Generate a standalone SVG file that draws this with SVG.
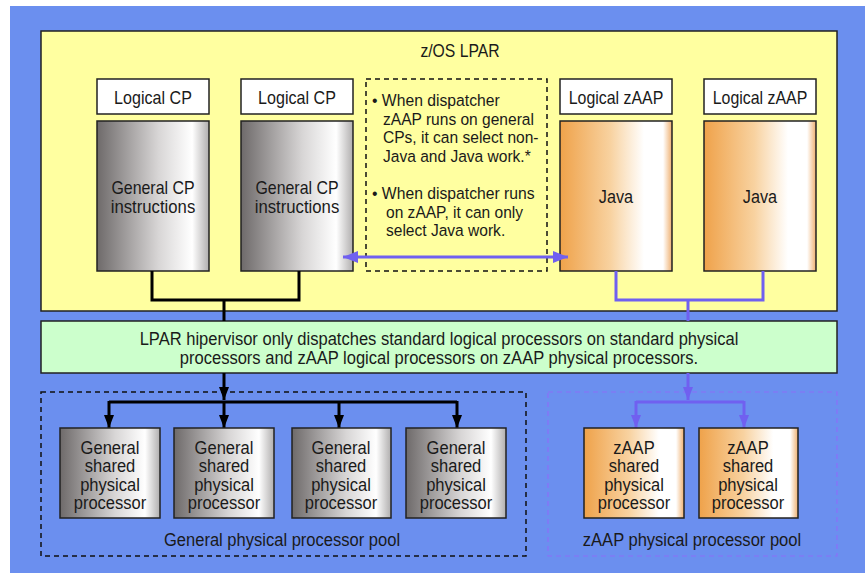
<svg xmlns="http://www.w3.org/2000/svg" width="865" height="573" viewBox="0 0 865 573">
<style>
text{font-family:"Liberation Sans",Arial,sans-serif;font-size:17.5px;fill:#1a1a1a;text-anchor:middle}
.note{text-anchor:start;font-size:17px}
.box{stroke:#222;stroke-width:1.5}
.blk{fill:none;stroke:#000;stroke-width:3}
.pur{fill:none;stroke:#7060F0;stroke-width:3}
</style>
<defs>
<linearGradient id="gray" x1="0" x2="1" y1="0" y2="0">
<stop offset="0" stop-color="#6e6a6a"/><stop offset="0.55" stop-color="#d8d6d6"/><stop offset="0.85" stop-color="#ffffff"/><stop offset="1" stop-color="#b0aeae"/>
</linearGradient>
<linearGradient id="orange" x1="0" x2="1" y1="0" y2="0">
<stop offset="0" stop-color="#EFA24A"/><stop offset="0.45" stop-color="#F8D2A0"/><stop offset="0.75" stop-color="#ffffff"/><stop offset="0.92" stop-color="#ffffff"/><stop offset="1" stop-color="#EFB070"/>
</linearGradient>
<marker id="ab" viewBox="0 0 13 10" refX="13" refY="5" markerWidth="13" markerHeight="10" markerUnits="userSpaceOnUse" orient="auto-start-reverse"><path d="M0,0 L13,5 L0,10 z" fill="#000"/></marker>
<marker id="ap" viewBox="0 0 13 10" refX="13" refY="5" markerWidth="13" markerHeight="10" markerUnits="userSpaceOnUse" orient="auto-start-reverse"><path d="M0,0 L13,5 L0,10 z" fill="#7060F0"/></marker>
<marker id="aph" viewBox="0 0 15 12" refX="15" refY="6" markerWidth="15" markerHeight="12" markerUnits="userSpaceOnUse" orient="auto-start-reverse"><path d="M0,0 L15,6 L0,12 z" fill="#7060F0"/></marker>
</defs>
<rect x="10" y="6" width="855" height="567" fill="#6B8FEF"/>
<g id="lpar">
<rect x="41" y="31" width="796" height="280" fill="#FFFFA0" class="box"/>
<text transform="translate(460,57) scale(.9,1)">z/OS LPAR</text>
</g>
<g id="cp1">
<rect x="97" y="79" width="112" height="35" fill="#fff" class="box"/>
<text transform="translate(153,104) scale(.92,1)">Logical CP</text>
<rect x="97" y="121" width="112" height="150" fill="url(#gray)" class="box"/>
<text transform="translate(153,194) scale(.91,1)">General CP</text>
<text transform="translate(153,213) scale(.955,1)">instructions</text>
</g>
<g id="cp2">
<rect x="241" y="79" width="112" height="35" fill="#fff" class="box"/>
<text transform="translate(297,104) scale(.92,1)">Logical CP</text>
<rect x="241" y="121" width="112" height="150" fill="url(#gray)" class="box"/>
<text transform="translate(297,194) scale(.91,1)">General CP</text>
<text transform="translate(297,213) scale(.955,1)">instructions</text>
</g>
<g id="note">
<rect x="366" y="79" width="181" height="192" fill="none" stroke="#111" stroke-width="1.5" stroke-dasharray="5,4"/>
<text class="note" transform="translate(372,106) scale(.925,1)">• When dispatcher</text>
<text class="note" transform="translate(383,124.5) scale(.915,1)">zAAP runs on general</text>
<text class="note" transform="translate(383,143) scale(.915,1)">CPs, it can select non-</text>
<text class="note" transform="translate(383,161.5) scale(.915,1)">Java and Java work.*</text>
<text class="note" transform="translate(372,199) scale(.925,1)">• When dispatcher runs</text>
<text class="note" transform="translate(386,217.5) scale(.915,1)">on zAAP, it can only</text>
<text class="note" transform="translate(386,236) scale(.915,1)">select Java work.</text>
</g>
<g id="zaap1">
<rect x="560" y="79" width="112" height="35" fill="#fff" class="box"/>
<text transform="translate(616,104) scale(.91,1)">Logical zAAP</text>
<rect x="560" y="121" width="112" height="150" fill="url(#orange)" class="box"/>
<text transform="translate(616,203) scale(.93,1)">Java</text>
</g>
<g id="zaap2">
<rect x="704" y="79" width="112" height="35" fill="#fff" class="box"/>
<text transform="translate(760,104) scale(.91,1)">Logical zAAP</text>
<rect x="704" y="121" width="112" height="150" fill="url(#orange)" class="box"/>
<text transform="translate(760,203) scale(.93,1)">Java</text>
</g>
<g id="hyp">
<rect x="41" y="321" width="796" height="52" fill="#CCFFCC" class="box"/>
<text transform="translate(439,345) scale(.945,1)">LPAR hipervisor only dispatches standard logical processors on standard physical</text>
<text transform="translate(439,364) scale(.945,1)">processors and zAAP logical processors on zAAP physical processors.</text>
</g>
<g id="gpool">
<rect x="41" y="392" width="485" height="164" fill="none" stroke="#111" stroke-width="1.5" stroke-dasharray="5,4"/>
<text transform="translate(282,546) scale(.945,1)">General physical processor pool</text>
</g>
<g id="zpool">
<rect x="548" y="392" width="289" height="164" fill="none" stroke="#8A70F8" stroke-width="1.2" stroke-dasharray="5,4"/>
<text transform="translate(692,546) scale(.945,1)">zAAP physical processor pool</text>
</g>
<g id="connectors">
<path class="blk" d="M152,271 V300 H299 V271 M224,300 V321"/>
<path class="pur" d="M616,271 V300 H763 V271 M688,300 V321"/>
<line x1="343" y1="257" x2="568" y2="257" stroke="#7060F0" stroke-width="3" marker-start="url(#aph)" marker-end="url(#aph)"/>
<line x1="224" y1="373" x2="224" y2="400" class="blk" marker-end="url(#ab)"/>
<path class="blk" d="M109,402 H457"/>
<line x1="109" y1="401" x2="109" y2="428" class="blk" marker-end="url(#ab)"/>
<line x1="224" y1="401" x2="224" y2="428" class="blk" marker-end="url(#ab)"/>
<line x1="339" y1="401" x2="339" y2="428" class="blk" marker-end="url(#ab)"/>
<line x1="457" y1="401" x2="457" y2="428" class="blk" marker-end="url(#ab)"/>
<line x1="688" y1="373" x2="688" y2="400" class="pur" marker-end="url(#ap)"/>
<path class="pur" d="M636,402 H744"/>
<line x1="636" y1="401" x2="636" y2="428" class="pur" marker-end="url(#ap)"/>
<line x1="744" y1="401" x2="744" y2="428" class="pur" marker-end="url(#ap)"/>
</g>
<g id="gp1">
<rect x="60" y="428" width="100" height="90" fill="url(#gray)" class="box"/>
<text transform="translate(110,454) scale(.945,1)">General</text><text transform="translate(110,472) scale(.945,1)">shared</text><text transform="translate(110,491) scale(.945,1)">physical</text><text transform="translate(110,509) scale(.945,1)">processor</text>
</g>
<g id="gp2">
<rect x="174" y="428" width="100" height="90" fill="url(#gray)" class="box"/>
<text transform="translate(224,454) scale(.945,1)">General</text><text transform="translate(224,472) scale(.945,1)">shared</text><text transform="translate(224,491) scale(.945,1)">physical</text><text transform="translate(224,509) scale(.945,1)">processor</text>
</g>
<g id="gp3">
<rect x="292" y="428" width="99" height="90" fill="url(#gray)" class="box"/>
<text transform="translate(341,454) scale(.945,1)">General</text><text transform="translate(341,472) scale(.945,1)">shared</text><text transform="translate(341,491) scale(.945,1)">physical</text><text transform="translate(341,509) scale(.945,1)">processor</text>
</g>
<g id="gp4">
<rect x="406" y="428" width="100" height="90" fill="url(#gray)" class="box"/>
<text transform="translate(456,454) scale(.945,1)">General</text><text transform="translate(456,472) scale(.945,1)">shared</text><text transform="translate(456,491) scale(.945,1)">physical</text><text transform="translate(456,509) scale(.945,1)">processor</text>
</g>
<g id="zp1">
<rect x="584" y="428" width="100" height="90" fill="url(#orange)" class="box"/>
<text transform="translate(634,454) scale(.945,1)">zAAP</text><text transform="translate(634,472) scale(.945,1)">shared</text><text transform="translate(634,491) scale(.945,1)">physical</text><text transform="translate(634,509) scale(.945,1)">processor</text>
</g>
<g id="zp2">
<rect x="699" y="428" width="99" height="90" fill="url(#orange)" class="box"/>
<text transform="translate(748,454) scale(.945,1)">zAAP</text><text transform="translate(748,472) scale(.945,1)">shared</text><text transform="translate(748,491) scale(.945,1)">physical</text><text transform="translate(748,509) scale(.945,1)">processor</text>
</g>
</svg>
